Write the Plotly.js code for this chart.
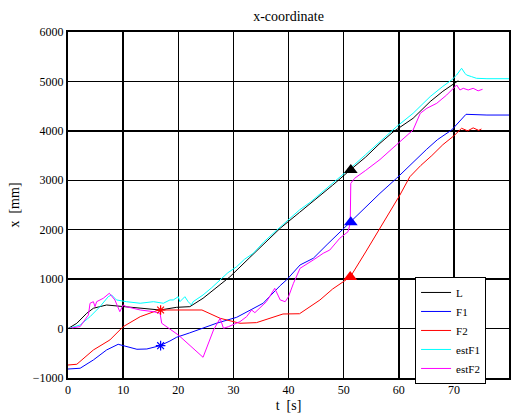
<!DOCTYPE html>
<html>
<head>
<meta charset="utf-8">
<script src="https://cdn.plot.ly/plotly-3.0.1.min.js"></script>
<style>
  html, body { margin: 0; padding: 0; background: #fff; }
  #chart { width: 514px; height: 420px; }
</style>
</head>
<body>
<div id="chart"></div>
<script>
// Leader (L), followers (F1, F2) and the followers' estimates (estF1, estF2), x position in mm over time in s.
const L_t = [0, 1.6, 3.4, 4.6, 7, 10.6, 14.3, 16.7, 19.7, 22.1, 24.5, 27, 29.4, 33, 38.5, 42, 45, 48, 51.2, 54, 56.6, 59, 62.6, 65.7, 68, 70.8];
const L_x = [0, 107, 310, 411, 477, 443, 411, 376, 430, 443, 613, 830, 1050, 1440, 2030, 2350, 2620, 2900, 3208, 3470, 3749, 3980, 4254, 4592, 4800, 5015];

const F1_t = [0, 2.2, 4.6, 7, 9.1, 10.6, 12.5, 14.3, 16.7, 18.5, 19.7, 22, 24.5, 27, 30.6, 33, 35.4, 38.5, 39.7, 42.1, 44.5, 47, 49, 51.2, 54, 56.6, 59.6, 62, 65, 67, 69.6, 72.2, 76, 80];
const F1_x = [-818, -803, -635, -433, -318, -366, -419, -413, -346, -251, -176, -90, 6, 110, 228, 370, 512, 870, 990, 1287, 1422, 1700, 1920, 2163, 2450, 2737, 3040, 3300, 3620, 3820, 4018, 4335, 4320, 4320];

const F2_t = [0, 1.6, 4.6, 7.6, 10, 13.1, 16.1, 16.7, 18.5, 24.3, 27.6, 31.2, 34.2, 39, 42, 45.7, 48, 51.2, 54, 56.6, 60.2, 62, 64, 66, 68, 70, 71.4, 72.5, 73.5, 74.5, 75];
const F2_x = [-737, -722, -433, -230, 38, 241, 362, 376, 376, 376, 208, 107, 120, 295, 300, 578, 800, 1044, 1550, 2029, 2700, 3070, 3300, 3500, 3720, 3900, 4052, 4000, 4060, 4010, 4038];

const estF1_t = [0, 2.2, 4, 5.8, 7.3, 7.9, 8.8, 10.6, 13.1, 15.5, 17.3, 18.5, 19.1, 20, 20.3, 21.2, 21.8, 22.4, 22.7, 24.5, 26, 27.6, 29, 30.6, 32, 33.6, 35.5, 37.9, 40, 42, 44, 46, 48, 50, 52, 54, 56.6, 59.6, 62.6, 65.7, 68, 69.6, 70.5, 71.4, 72, 72.3, 73.2, 74.1, 76, 80];
const estF1_x = [0, 73, 241, 443, 645, 680, 579, 544, 512, 544, 512, 579, 579, 645, 544, 645, 544, 477, 544, 680, 820, 983, 1130, 1252, 1400, 1523, 1750, 1995, 2200, 2400, 2560, 2750, 2930, 3120, 3320, 3520, 3781, 4085, 4355, 4693, 4900, 5030, 5130, 5266, 5165, 5130, 5097, 5063, 5055, 5055];

const estF2_t = [0, 2.2, 3.7, 4, 4.6, 4.9, 5.2, 6.4, 7.5, 8.5, 9.4, 9.7, 10, 10.6, 13.1, 15.5, 16.7, 17, 17.9, 20, 24.5, 26.4, 27.6, 28.2, 29.1, 31.2, 32.4, 33, 33.3, 33.9, 34.8, 36, 37.5, 38.5, 39.4, 40, 40.9, 41.8, 42.1, 44.5, 46.3, 47.5, 49.3, 50.8, 51.2, 51.3, 52, 54, 56.6, 59.6, 62.6, 63.9, 65.1, 66.9, 68.7, 70.5, 71.1, 71.7, 72.6, 73.5, 74.4, 75.2];
const estF2_x = [0, 40, 275, 512, 544, 443, 544, 613, 714, 579, 342, 411, 477, 443, 376, 342, 309, 107, 38, -129, -581, -28, 208, 6, 38, 140, 241, 342, 376, 322, 411, 544, 815, 579, 544, 645, 916, 1151, 1220, 1388, 1523, 1590, 1827, 1960, 2130, 2939, 3040, 3200, 3420, 3720, 4018, 4355, 4457, 4558, 4726, 4928, 4827, 4861, 4827, 4861, 4810, 4841];

// Event markers: star at the start of the manoeuvre, triangle at the switch.
const star_t = [16.8, 16.8];
const star_x = [376, -346];
const star_colors = ['red', 'blue'];
const tri_t = [51.3, 51.3, 51.2];
const tri_x = [3208, 2153, 1044];
const tri_colors = ['black', 'blue', 'red'];

const xTicks = [0, 10, 20, 30, 40, 50, 60, 70, 80];
const yTicks = [-1000, 0, 1000, 2000, 3000, 4000, 5000, 6000];

const serif = 'Liberation Serif, Times New Roman, serif';

function line(name, t, x, color) {
  return { type: 'scatter', mode: 'lines', name: name, x: t, y: x,
           line: { color: color, width: 1 }, hoverinfo: 'skip' };
}

const traces = [
  line('L', L_t, L_x, 'black'),
  line('F1', F1_t, F1_x, 'blue'),
  line('F2', F2_t, F2_x, 'red'),
  line('estF1', estF1_t, estF1_x, 'cyan'),
  line('estF2', estF2_t, estF2_x, 'magenta'),
  { type: 'scatter', mode: 'markers', x: star_t, y: star_x, showlegend: false, hoverinfo: 'skip',
    marker: { symbol: 'asterisk-open', size: 8, color: star_colors, line: { color: star_colors, width: 1.2 } } },
  { type: 'scatter', mode: 'markers', x: tri_t, y: tri_x, showlegend: false, hoverinfo: 'skip',
    marker: { symbol: 'triangle-up', size: 12, color: tri_colors } }
];

const axisCommon = {
  showline: true, linecolor: 'black', linewidth: 2, mirror: true,
  showgrid: true, gridcolor: 'black', gridwidth: 1.5,
  zeroline: false, ticks: 'inside', ticklen: 4, tickcolor: 'black',
  tickfont: { family: serif, size: 12, color: 'black' }
};

const layout = {
  width: 514, height: 420,
  paper_bgcolor: 'white', plot_bgcolor: 'white',
  margin: { l: 68, r: 5, t: 32, b: 42 },
  font: { family: serif, color: 'black' },
  title: { text: 'x-coordinate', font: { family: serif, size: 14, color: 'black' },
           x: 0.5, xref: 'paper', xanchor: 'center', y: 1 - 16 / 420, yref: 'container', yanchor: 'middle' },
  xaxis: Object.assign({}, axisCommon, {
    range: [0, 80], tickvals: xTicks,
    title: { text: 't\u00a0\u00a0[s]', font: { family: serif, size: 14, color: 'black' }, standoff: 4 }
  }),
  yaxis: Object.assign({}, axisCommon, {
    range: [-1000, 6000], tickvals: yTicks,
    title: { text: 'x\u00a0\u00a0[mm]', font: { family: serif, size: 14, color: 'black' }, standoff: 10 }
  }),
  legend: {
    x: 0.787, y: 0.292, xanchor: 'left', yanchor: 'top',
    bgcolor: 'white', bordercolor: 'black', borderwidth: 1,
    font: { family: serif, size: 11, color: 'black' },
    tracegroupgap: 0, itemwidth: 30
  },
  showlegend: true
};

Plotly.newPlot('chart', traces, layout, { staticPlot: true, displayModeBar: false });
</script>
</body>
</html>
